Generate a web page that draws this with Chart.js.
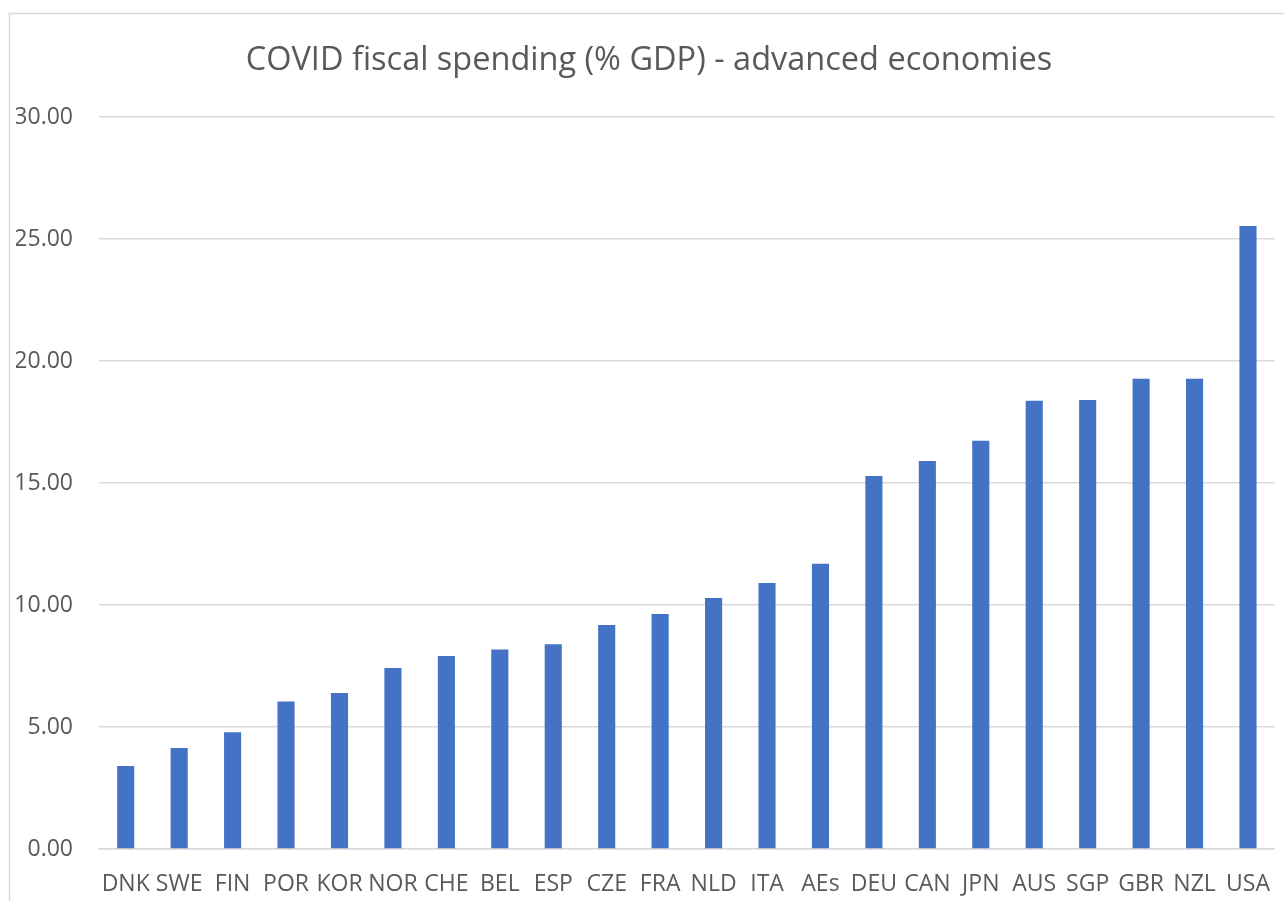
<!DOCTYPE html>
<html>
<head>
<meta charset="utf-8">
<script src="https://cdn.jsdelivr.net/npm/chart.js@4.4.0/dist/chart.umd.min.js"></script>
<style>
  html, body { margin: 0; padding: 0; background: #fff; }
  #wrap { position: absolute; left: 0; top: 0; width: 1284px; height: 901px; }
</style>
</head>
<body>
<div id="wrap"><canvas id="myChart" width="1284" height="901"></canvas></div>
<script>
const countries = ['DNK', 'SWE', 'FIN', 'POR', 'KOR', 'NOR', 'CHE', 'BEL', 'ESP', 'CZE', 'FRA',
  'NLD', 'ITA', 'AEs', 'DEU', 'CAN', 'JPN', 'AUS', 'SGP', 'GBR', 'NZL', 'USA']
const spending = [3.40, 4.14, 4.78, 6.04, 6.39, 7.42, 7.91, 8.18, 8.39, 9.18, 9.63,
  10.29, 10.90, 11.69, 15.29, 15.90, 16.73, 18.37, 18.40, 19.27, 19.27, 25.53]
const yTicks = [0, 5, 10, 15, 20, 25, 30]
const chartTitle = 'COVID fiscal spending (% GDP) - advanced economies'

const grey = '#595959'
const gridGrey = '#d9d9d9'

// outer frame of the chart box, cut off at right and bottom
const framePlugin = {
  id: 'frame',
  beforeDraw(chart) {
    const ctx = chart.ctx
    ctx.save()
    ctx.strokeStyle = gridGrey
    ctx.lineWidth = 1.5
    ctx.beginPath()
    ctx.moveTo(9.5, 901)
    ctx.lineTo(9.5, 13.5)
    ctx.lineTo(1284, 13.5)
    ctx.stroke()
    ctx.restore()
  }
}

const ctx = document.getElementById('myChart')
const chart = new Chart(ctx, {
  type: 'bar',
  data: {
    labels: countries,
    datasets: [{
      label: 'COVID fiscal spending',
      data: spending,
      backgroundColor: '#4472C4',
      borderWidth: 0,
      barPercentage: 1,
      categoryPercentage: 0.32
    }]
  },
  plugins: [framePlugin],
  options: {
    responsive: false,
    animation: false,
    layout: { padding: { left: 16, right: 2, top: 0, bottom: 0 } },
    plugins: {
      legend: { display: false },
      tooltip: { enabled: false },
      title: {
        display: true,
        text: chartTitle,
        color: grey,
        font: { family: 'Open Sans', size: 32.5, weight: 'normal' },
        padding: { top: 41, bottom: 37 }
      }
    },
    scales: {
      x: {
        grid: { display: false },
        border: { display: true, color: gridGrey, width: 1.5 },
        ticks: {
          color: grey,
          font: { family: 'Open Sans', size: 23 },
          padding: 14,
          maxRotation: 0,
          autoSkip: false
        },
        afterFit(scale) { scale.height = 52 }
      },
      y: {
        min: 0,
        max: 30,
        afterBuildTicks(scale) { scale.ticks = yTicks.map(v => ({ value: v })) },
        grid: { color: gridGrey, lineWidth: 1.5, drawTicks: false },
        border: { display: false },
        ticks: {
          color: grey,
          font: { family: 'Open Sans', size: 23 },
          padding: 26,
          callback: v => Number(v).toFixed(2)
        },
        afterFit(scale) { scale.width = 83 }
      }
    }
  }
})
</script>
</body>
</html>
